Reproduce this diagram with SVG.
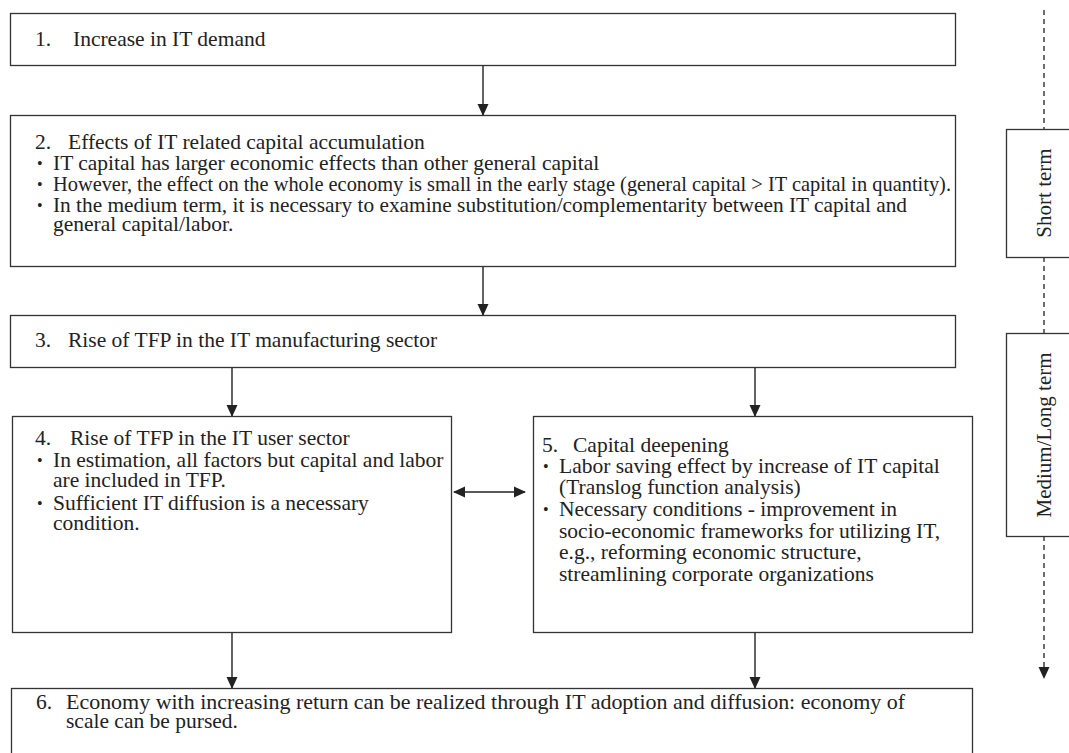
<svg xmlns="http://www.w3.org/2000/svg" width="1069" height="753" viewBox="0 0 1069 753">
<defs>
<style>
.box{fill:#fff;stroke:#333;stroke-width:1.3}
.t{font-family:"Liberation Serif","Times New Roman",serif;font-size:21.5px;fill:#222}
.b{font-family:"Liberation Serif","Times New Roman",serif;font-size:16px;fill:#222}
.v{font-family:"Liberation Serif","Times New Roman",serif;font-size:21px;fill:#222;text-anchor:middle}
.c{stroke:#222;stroke-width:1.4;fill:none}
.d{stroke:#333;stroke-width:1.4;fill:none;stroke-dasharray:5 4}
</style>
<marker id="ah" viewBox="0 0 12 12" refX="11" refY="6" markerWidth="12" markerHeight="12" markerUnits="userSpaceOnUse" orient="auto-start-reverse">
<path d="M0,0.5 L12,6 L0,11.5 Z" fill="#222"/>
</marker>
</defs>
<rect width="1069" height="753" fill="#fff"/>

<g id="n1">
<rect class="box" x="10.5" y="13.5" width="945" height="52"/>
<text class="t" x="35" y="46">1.</text>
<text class="t" x="73" y="46">Increase in IT demand</text>
</g>

<g id="n2">
<rect class="box" x="10.5" y="115.5" width="945" height="151"/>
<text class="t" x="35" y="149">2.</text>
<text class="t" x="68" y="149">Effects of IT related capital accumulation</text>
<text class="b" x="37" y="169">•</text>
<text class="t" x="53" y="170">IT capital has larger economic effects than other general capital</text>
<text class="b" x="37" y="190">•</text>
<text class="t" x="53" y="191" textLength="898" lengthAdjust="spacingAndGlyphs">However, the effect on the whole economy is small in the early stage (general capital &gt; IT capital in quantity).</text>
<text class="b" x="37" y="211">•</text>
<text class="t" x="53" y="212" textLength="854" lengthAdjust="spacingAndGlyphs">In the medium term, it is necessary to examine substitution/complementarity between IT capital and</text>
<text class="t" x="53" y="231">general capital/labor.</text>
</g>

<g id="n3">
<rect class="box" x="10.5" y="315.5" width="945" height="52"/>
<text class="t" x="35" y="347">3.</text>
<text class="t" x="68" y="347">Rise of TFP in the IT manufacturing sector</text>
</g>

<g id="n4">
<rect class="box" x="12.5" y="416.5" width="439" height="216"/>
<text class="t" x="35" y="445">4.</text>
<text class="t" x="70" y="445">Rise of TFP in the IT user sector</text>
<text class="b" x="37" y="466">•</text>
<text class="t" x="53" y="467">In estimation, all factors but capital and labor</text>
<text class="t" x="53" y="487">are included in TFP.</text>
<text class="b" x="37" y="509">•</text>
<text class="t" x="53" y="510">Sufficient IT diffusion is a necessary</text>
<text class="t" x="53" y="530">condition.</text>
</g>

<g id="n5">
<rect class="box" x="533.5" y="416.5" width="439" height="216"/>
<text class="t" x="542" y="452">5.</text>
<text class="t" x="573" y="452">Capital deepening</text>
<text class="b" x="543" y="472">•</text>
<text class="t" x="559" y="473">Labor saving effect by increase of IT capital</text>
<text class="t" x="559" y="494">(Translog function analysis)</text>
<text class="b" x="543" y="515">•</text>
<text class="t" x="559" y="516">Necessary conditions - improvement in</text>
<text class="t" x="559" y="538">socio-economic frameworks for utilizing IT,</text>
<text class="t" x="559" y="559">e.g., reforming economic structure,</text>
<text class="t" x="559" y="581">streamlining corporate organizations</text>
</g>

<g id="n6">
<rect class="box" x="11.5" y="688.5" width="961" height="70"/>
<text class="t" x="36" y="709">6.</text>
<text class="t" x="66" y="709" textLength="839" lengthAdjust="spacingAndGlyphs">Economy with increasing return can be realized through IT adoption and diffusion: economy of</text>
<text class="t" x="66" y="728">scale can be pursed.</text>
</g>

<g id="timeline">
<line class="d" x1="1044" y1="10" x2="1044" y2="129"/>
<line class="d" x1="1044" y1="257" x2="1044" y2="333"/>
<line class="d" x1="1044" y1="536" x2="1044" y2="678" marker-end="url(#ah)"/>
<rect class="box" x="1006.5" y="129.5" width="80" height="128"/>
<text class="v" transform="translate(1051,193) rotate(-90)">Short term</text>
<rect class="box" x="1006.5" y="333.5" width="80" height="203"/>
<text class="v" transform="translate(1051,435) rotate(-90)">Medium/Long term</text>
</g>

<g id="connectors">
<line class="c" x1="483" y1="66" x2="483" y2="115" marker-end="url(#ah)"/>
<line class="c" x1="483" y1="267" x2="483" y2="315" marker-end="url(#ah)"/>
<line class="c" x1="232" y1="368" x2="232" y2="416" marker-end="url(#ah)"/>
<line class="c" x1="755" y1="368" x2="755" y2="416" marker-end="url(#ah)"/>
<line class="c" x1="454" y1="492" x2="525" y2="492" marker-start="url(#ah)" marker-end="url(#ah)"/>
<line class="c" x1="232" y1="633" x2="232" y2="688" marker-end="url(#ah)"/>
<line class="c" x1="755" y1="633" x2="755" y2="688" marker-end="url(#ah)"/>
</g>
</svg>
